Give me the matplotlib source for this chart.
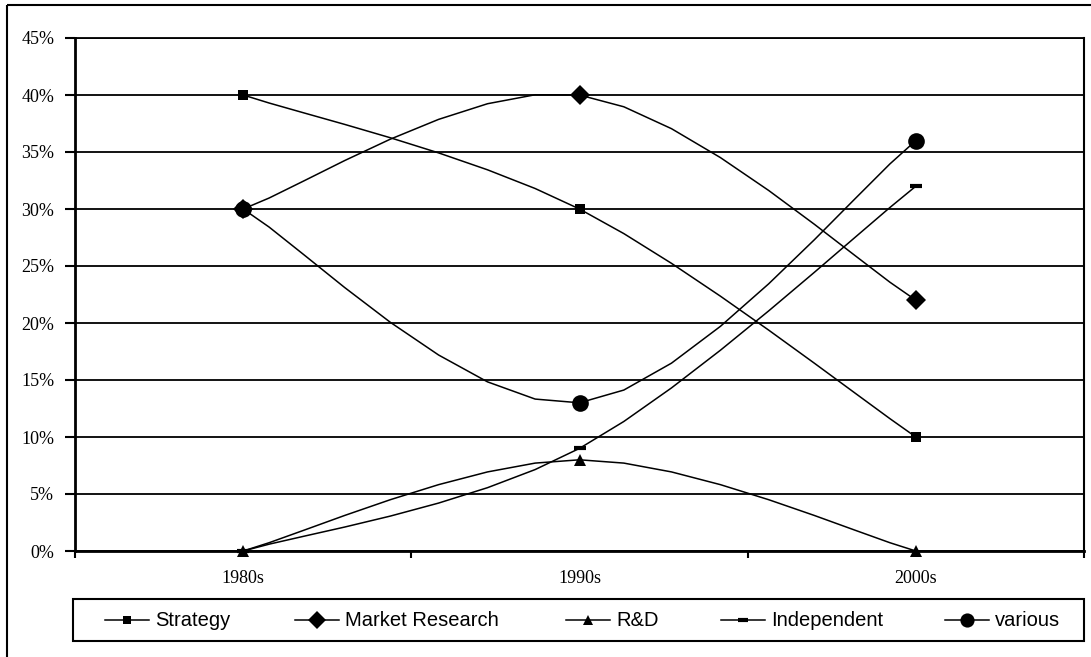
import numpy as np
import matplotlib
matplotlib.use("Agg")
import matplotlib.pyplot as plt
from matplotlib.patches import Rectangle
from matplotlib.lines import Line2D

# ---- data -------------------------------------------------------------
decades = ["1980s", "1990s", "2000s"]
strategy = [40, 30, 10]
market_research = [30, 40, 22]
rnd = [0, 8, 0]
independent = [0, 9, 32]
various = [30, 13, 36]
series_names = ["Strategy", "Market Research", "R&D", "Independent", "various"]
y_ticks = [0, 5, 10, 15, 20, 25, 30, 35, 40, 45]
y_tick_labels = [f"{v}%" for v in y_ticks]

series = [strategy, market_research, rnd, independent, various]
styles = [
    dict(marker="s", ms=7.5, mew=0),
    dict(marker="D", ms=10.5, mew=0),
    dict(marker="^", ms=9, mew=0),
    dict(marker="_", ms=9, mew=3),
    dict(marker="o", ms=12, mew=0),
]


def smooth(xs, ys, steps=8):
    """Bezier smoothing through the points (Catmull-Rom style tangents)."""
    pts = np.column_stack([xs, ys]).astype(float)
    n = len(pts)
    out = [pts[0]]
    for i in range(n - 1):
        p0 = pts[max(i - 1, 0)]
        p1 = pts[i]
        p2 = pts[i + 1]
        p3 = pts[min(i + 2, n - 1)]
        c1 = p1 + (p2 - p0) / 6.0
        c2 = p2 - (p3 - p1) / 6.0
        t = np.linspace(0, 1, steps + 1)[1:, None]
        seg = ((1 - t) ** 3) * p1 + 3 * ((1 - t) ** 2) * t * c1 \
            + 3 * (1 - t) * t ** 2 * c2 + t ** 3 * p2
        out.extend(seg)
    out = np.array(out)
    return out[:, 0], out[:, 1]


W, H = 1091, 657
fig = plt.figure(figsize=(W / 100, H / 100), dpi=100)

ax_l, ax_r, ax_t, ax_b = 75, 1084, 38, 551
ax = fig.add_axes([ax_l / W, 1 - ax_b / H, (ax_r - ax_l) / W, (ax_b - ax_t) / H])

x = np.arange(len(decades))
for vals, st in zip(series, styles):
    sx, sy = smooth(x, vals)
    ax.plot(sx, sy, color="black", lw=1.1, solid_joinstyle="miter", zorder=3)
    ax.plot(x, vals, linestyle="none", color="black", mec="black",
            clip_on=False, zorder=4, **st)

ax.set_xlim(-0.5, len(decades) - 0.5)
ax.set_ylim(0, 45)
ax.set_yticks(y_ticks)
ax.set_yticklabels(y_tick_labels, fontfamily="Liberation Serif", fontsize=13)
ax.set_xticks(x)
ax.set_xticklabels(decades, fontfamily="Liberation Serif", fontsize=13)
ax.set_xticks(np.arange(-0.5, len(decades)), minor=True)
ax.tick_params(axis="x", which="major", length=0, pad=14)
ax.tick_params(axis="x", which="minor", length=5, width=1.5, direction="out")
ax.tick_params(axis="y", length=7, width=1.5, direction="out", pad=8)

ax.yaxis.grid(True, color="black", lw=1.3)
ax.set_axisbelow(True)
for side in ["left", "bottom"]:
    ax.spines[side].set_linewidth(2)
ax.spines["right"].set_linewidth(1.5)
ax.spines["top"].set_linewidth(1.3)

# ---- outer chart frame and legend --------------------------------------
ov = fig.add_axes([0, 0, 1, 1], zorder=-1)
ov.set_xlim(0, W)
ov.set_ylim(H, 0)
ov.axis("off")
ov.add_patch(Rectangle((7, 5), W + 20, H + 20, fill=False, lw=1.5,
                       edgecolor="black", clip_on=False))

lg = fig.add_axes([0, 0, 1, 1], zorder=5)
lg.set_xlim(0, W)
lg.set_ylim(H, 0)
lg.axis("off")
lg.patch.set_alpha(0)
lg.add_patch(Rectangle((73, 599), 1084 - 73, 42, fill=False, lw=1.5,
                       edgecolor="black"))
leg_x = [105, 295, 566, 721, 945]
leg_y = 620
for name, st, lx in zip(series_names, styles, leg_x):
    lg.add_line(Line2D([lx, lx + 44], [leg_y, leg_y], color="black", lw=1.1))
    mst = dict(st)
    mst["ms"] = mst["ms"] * 0.85
    lg.plot([lx + 22], [leg_y], linestyle="none", color="black", mec="black", **mst)
    lg.text(lx + 50, leg_y + 1, name, fontfamily="Liberation Sans",
            fontsize=14.5, va="center", ha="left")

fig.savefig("out.png", dpi=100)
